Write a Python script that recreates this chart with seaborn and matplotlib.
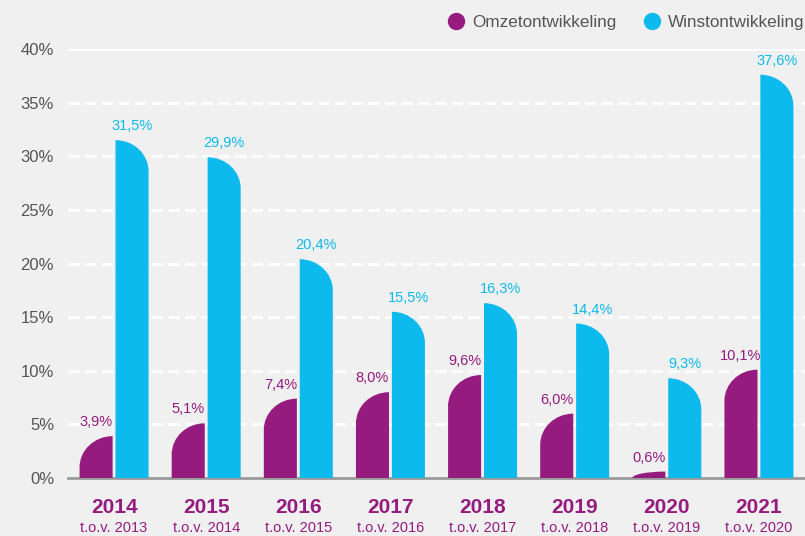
import numpy as np
import pandas as pd
import matplotlib
matplotlib.use('Agg')
import matplotlib.pyplot as plt
from matplotlib.path import Path
from matplotlib.patches import PathPatch
from matplotlib.lines import Line2D
import seaborn as sns

# data
jaren = ['2014', '2015', '2016', '2017', '2018', '2019', '2020', '2021']
tov = ['t.o.v. 2013', 't.o.v. 2014', 't.o.v. 2015', 't.o.v. 2016',
       't.o.v. 2017', 't.o.v. 2018', 't.o.v. 2019', 't.o.v. 2020']
omzet = [3.9, 5.1, 7.4, 8.0, 9.6, 6.0, 0.6, 10.1]
winst = [31.5, 29.9, 20.4, 15.5, 16.3, 14.4, 9.3, 37.6]
reeksen = ['Omzetontwikkeling', 'Winstontwikkeling']

PAARS = '#951b7e'
BLAUW = '#0dbaed'
BG = '#f0f0f0'
GRIJS = '#555555'

df = pd.DataFrame({
    'jaar': jaren * 2,
    'reeks': [reeksen[0]] * len(jaren) + [reeksen[1]] * len(jaren),
    'waarde': omzet + winst,
})

sns.set_style('white')
plt.rcParams['font.family'] = ['Liberation Sans', 'DejaVu Sans']

fig = plt.figure(figsize=(8.05, 5.36), dpi=100, facecolor=BG)
ax = fig.add_axes([68 / 805, 58 / 536, 1 - 68 / 805, 429 / 536])
ax.set_facecolor(BG)

sns.barplot(data=df, x='jaar', y='waarde', hue='reeks', palette=[PAARS, BLAUW],
            width=0.78, gap=0.08, saturation=1, legend=False, ax=ax)

ax.set_xlim(-0.5, 7.5)
ax.set_ylim(0, 40)

# rounded tops: purple round on the left, blue on the right
ry_max = 2.9
k = 0.5523
for ci, cont in enumerate(ax.containers):
    vals = omzet if ci == 0 else winst
    kleur = PAARS if ci == 0 else BLAUW
    for rect, v in zip(cont.patches, vals):
        x, w, h = rect.get_x(), rect.get_width(), rect.get_height()
        rect.set_visible(False)
        ry = min(ry_max, h)
        if ci == 0:
            verts = [(x, 0), (x + w, 0), (x + w, h),
                     (x + w - k * w, h), (x, h - ry + k * ry), (x, h - ry),
                     (x, 0)]
        else:
            verts = [(x + w, 0), (x, 0), (x, h),
                     (x + k * w, h), (x + w, h - ry + k * ry), (x + w, h - ry),
                     (x + w, 0)]
        codes = [Path.MOVETO, Path.LINETO, Path.LINETO,
                 Path.CURVE4, Path.CURVE4, Path.CURVE4, Path.CLOSEPOLY]
        ax.add_patch(PathPatch(Path(verts, codes), facecolor=kleur,
                               edgecolor='none', zorder=3))
        ax.annotate(f'{v:.1f}%'.replace('.', ','), (x + w / 2, h),
                    xytext=(0, 5), textcoords='offset points',
                    ha='center', va='bottom', color=kleur, fontsize=10.5)

# grid
ax.set_yticks(np.arange(0, 45, 5))
ax.set_yticklabels([f'{t}%' for t in range(0, 45, 5)])
for t in range(5, 40, 5):
    ax.axhline(t, color='white', lw=2, ls=(0, (4, 2)), zorder=1)
ax.axhline(40, color='white', lw=2, zorder=1)

ax.tick_params(axis='y', length=0, pad=10, labelsize=12, labelcolor=GRIJS)
ax.set_xticks(range(len(jaren)))
ax.set_xticklabels([])
ax.tick_params(axis='x', which='major', length=0)
ax.set_xticks(np.arange(-0.5, len(jaren), 1), minor=True)
ax.tick_params(axis='x', which='minor', direction='in', length=10, width=1.5,
               color='#9a9a9a')
for s in ['top', 'left', 'right']:
    ax.spines[s].set_visible(False)
ax.spines['bottom'].set_color('#9a9a9a')
ax.spines['bottom'].set_linewidth(2)
ax.set_xlabel('')
ax.set_ylabel('')

trans = ax.get_xaxis_transform()
for i, (j, t) in enumerate(zip(jaren, tov)):
    ax.text(i, -0.068, j, transform=trans, ha='center', va='center',
            color=PAARS, fontsize=15, fontweight='bold')
    ax.text(i, -0.117, t, transform=trans, ha='center', va='center',
            color=PAARS, fontsize=10.5)

handles = [Line2D([], [], ls='', marker='o', ms=11.5, color=PAARS),
           Line2D([], [], ls='', marker='o', ms=11.5, color=BLAUW)]
fig.legend(handles, reeksen, loc='upper right', bbox_to_anchor=(1.019, 1.0),
           ncol=2, frameon=False, fontsize=12.3, labelcolor=GRIJS,
           handletextpad=0.45, columnspacing=1.6, handlelength=1.0)

fig.savefig('out.png', dpi=100, facecolor=BG)
